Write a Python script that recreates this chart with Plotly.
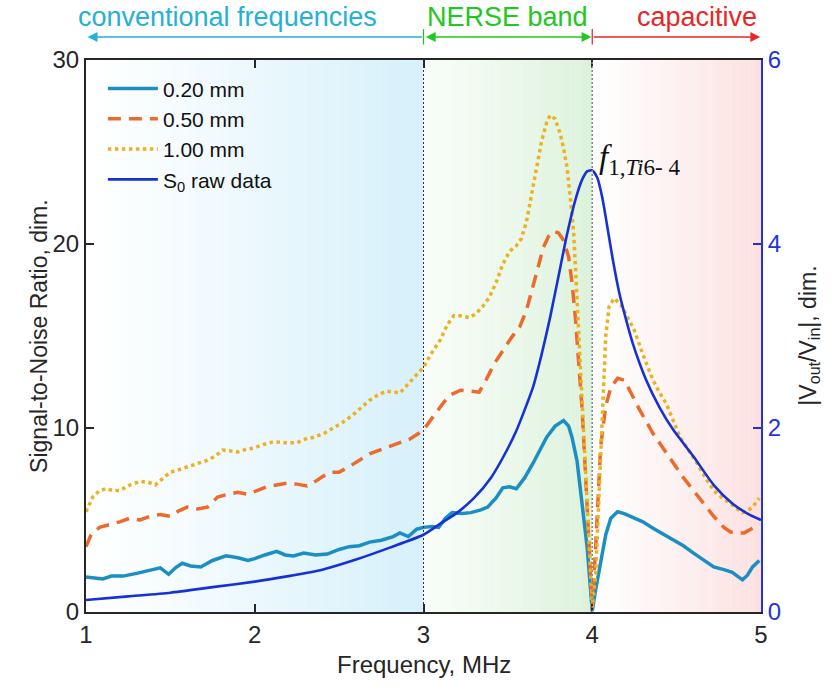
import plotly.graph_objects as go

# ---------------- data ----------------
freq_020 = [1.00,1.05,1.10,1.15,1.22,1.30,1.38,1.44,1.49,1.53,1.57,1.62,1.68,1.75,1.83,1.90,1.96,2.00,2.06,2.13,
            2.18,2.23,2.29,2.36,2.43,2.50,2.56,2.62,2.68,2.75,2.82,2.86,2.91,2.96,3.00,3.05,3.09,3.13,3.17,3.23,
            3.28,3.34,3.38,3.43,3.47,3.51,3.55,3.60,3.65,3.69,3.73,3.78,3.83,3.86,3.88,3.91,3.93,3.95,3.97,3.99,
            4.00,4.02,4.05,4.08,4.11,4.15,4.19,4.24,4.30,4.36,4.42,4.48,4.54,4.60,4.66,4.72,4.78,4.83,4.86,4.89,
            4.92,4.95,4.99]
snr_020 = [1.9,1.85,1.8,1.95,1.95,2.1,2.25,2.4,2.05,2.4,2.65,2.5,2.45,2.8,3.05,2.95,2.8,2.9,3.1,3.3,
           3.1,3.05,3.2,3.1,3.15,3.4,3.55,3.6,3.8,3.9,4.1,4.3,4.1,4.5,4.6,4.65,4.6,5.1,5.4,5.35,
           5.4,5.55,5.7,6.2,6.75,6.8,6.7,7.3,8.1,8.8,9.5,10.1,10.4,10.1,9.5,8.2,6.6,5.0,3.5,1.2,
           0.05,1.2,2.8,4.2,5.1,5.45,5.35,5.15,4.9,4.55,4.25,3.9,3.6,3.2,2.8,2.45,2.3,2.15,1.95,1.75,
           2.0,2.45,2.8]

freq_050 = [1.00,1.03,1.08,1.14,1.20,1.26,1.32,1.38,1.44,1.50,1.55,1.60,1.66,1.72,1.78,1.84,1.90,1.96,2.02,2.07,
            2.13,2.19,2.25,2.31,2.36,2.40,2.45,2.50,2.56,2.62,2.68,2.74,2.80,2.86,2.92,2.97,3.00,3.04,3.08,3.12,
            3.16,3.22,3.28,3.33,3.37,3.42,3.47,3.52,3.57,3.61,3.64,3.67,3.71,3.74,3.77,3.80,3.83,3.86,3.88,3.90,
            3.92,3.94,3.96,3.98,4.00,4.02,4.05,4.08,4.11,4.15,4.19,4.23,4.28,4.36,4.42,4.48,4.54,4.60,4.66,4.72,
            4.78,4.82,4.86,4.90,4.95,4.99]
snr_050 = [3.55,4.2,4.6,4.75,4.9,5.1,5.0,5.2,5.3,5.2,5.5,5.7,5.6,5.7,6.25,6.4,6.5,6.4,6.6,6.8,
           6.9,7.0,6.95,6.85,7.1,7.35,7.6,7.6,7.9,8.25,8.6,8.8,9.0,9.2,9.4,9.7,9.9,10.4,10.9,11.4,
           11.8,12.05,12.0,11.95,12.6,13.5,14.2,14.9,15.5,16.4,17.4,18.4,19.8,20.4,20.7,20.6,20.2,19.3,17.9,16.0,
           13.3,11.0,7.5,3.5,0.2,3.5,9.0,11.2,12.2,12.7,12.6,11.9,11.0,9.7,8.9,8.1,7.3,6.6,5.9,5.2,
           4.6,4.35,4.3,4.3,4.55,4.8]

freq_100 = [1.00,1.02,1.04,1.08,1.12,1.16,1.20,1.26,1.32,1.37,1.41,1.46,1.50,1.54,1.60,1.66,1.72,1.77,1.81,1.86,
            1.90,1.95,1.99,2.05,2.11,2.18,2.25,2.30,2.35,2.41,2.47,2.52,2.58,2.63,2.68,2.73,2.78,2.83,2.86,2.90,
            2.95,3.00,3.05,3.10,3.14,3.18,3.22,3.27,3.31,3.35,3.39,3.43,3.47,3.51,3.55,3.58,3.61,3.64,3.67,3.70,
            3.73,3.75,3.78,3.81,3.83,3.85,3.87,3.89,3.91,3.93,3.95,3.97,3.99,4.00,4.02,4.04,4.06,4.08,4.10,4.13,
            4.17,4.21,4.25,4.30,4.36,4.40,4.44,4.48,4.52,4.57,4.62,4.67,4.72,4.77,4.82,4.86,4.89,4.92,4.95,4.99]
snr_100 = [5.45,5.9,6.25,6.6,6.7,6.6,6.6,6.9,7.1,7.05,6.9,7.3,7.6,7.7,7.9,8.1,8.25,8.5,8.8,8.75,
           8.7,8.85,8.9,9.1,9.25,9.2,9.2,9.4,9.5,9.7,10.0,10.3,10.7,11.1,11.5,11.8,12.0,11.95,11.9,12.3,
           12.8,13.3,14.1,14.8,15.6,16.1,16.1,16.0,16.2,16.6,17.1,17.9,18.9,19.6,19.9,20.3,21.2,22.6,24.2,25.6,
           26.6,27.0,26.8,26.0,25.2,24.2,22.5,20.6,17.0,13.3,9.5,5.5,1.5,0.3,2.0,6.0,11.0,15.0,16.6,17.05,
           16.7,16.0,15.3,14.0,12.6,11.9,11.3,10.4,9.5,8.8,8.1,7.3,6.6,6.2,5.9,5.6,5.4,5.5,5.7,6.2]

freq_s0 = [1.00,1.25,1.50,1.75,2.00,2.20,2.40,2.60,2.80,3.00,3.10,3.20,3.30,3.40,3.50,3.55,3.60,3.65,3.70,3.75,
           3.80,3.85,3.90,3.94,3.97,4.00,4.03,4.06,4.09,4.12,4.16,4.20,4.24,4.32,4.40,4.48,4.60,4.72,4.83,4.92,5.00]
v_ratio = [0.13,0.17,0.21,0.27,0.33,0.39,0.46,0.57,0.70,0.84,0.96,1.08,1.24,1.46,1.78,1.97,2.20,2.45,2.80,3.20,
           3.65,4.10,4.48,4.70,4.79,4.80,4.72,4.50,4.18,3.85,3.47,3.18,2.92,2.52,2.22,1.98,1.69,1.38,1.18,1.07,1.00]

series_names = ["0.20 mm", "0.50 mm", "1.00 mm", "S<sub>0</sub> raw data"]
x_ticks = [1, 2, 3, 4, 5]
y_ticks = [0, 10, 20, 30]
y2_ticks = [0, 2, 4, 6]
band_edges = [1, 3, 4, 5]
band_labels = ["conventional frequencies", "NERSE band", "capacitive"]

# ---------------- styles ----------------
C_CYAN = "#1b8fc4"
C_ORANGE = "#ec6a2c"
C_YELLOW = "#edb120"
C_BLUE = "#1632d6"
AX_BLUE = "#2233dd"
FONT = "Liberation Sans, Arial, sans-serif"

fig = go.Figure()
fig.add_trace(go.Scatter(x=freq_020, y=snr_020, mode="lines", name=series_names[0],
                         line=dict(color=C_CYAN, width=3.5)))
fig.add_trace(go.Scatter(x=freq_050, y=snr_050, mode="lines", name=series_names[1],
                         line=dict(color=C_ORANGE, width=3.5, dash="13px,8px")))
fig.add_trace(go.Scatter(x=freq_100, y=snr_100, mode="lines", name=series_names[2],
                         line=dict(color=C_YELLOW, width=3.5, dash="3.5px,3.5px")))
fig.add_trace(go.Scatter(x=freq_s0, y=v_ratio, mode="lines", name=series_names[3], yaxis="y2",
                         line=dict(color=C_BLUE, width=2.6, shape="spline", smoothing=0.6)))

# ---------------- gradient background bands ----------------
def lerp(c0, c1, t):
    return tuple(int(round(a + (b - a) * t)) for a, b in zip(c0, c1))

band_colors = [((255, 255, 255), (214, 240, 251)),
               ((249, 253, 249), (220, 242, 220)),
               ((255, 255, 255), (252, 224, 224))]
shapes = []
N = 40
for (x0, x1), (c0, c1) in zip(zip(band_edges[:-1], band_edges[1:]), band_colors):
    w = (x1 - x0) / N
    for i in range(N):
        c = lerp(c0, c1, ((i + 0.5) / N) ** 1.1)
        shapes.append(dict(type="rect", xref="x", yref="paper", x0=x0 + i * w, x1=x0 + (i + 1) * w + w * 0.05,
                           y0=0, y1=1, fillcolor="rgb(%d,%d,%d)" % c, line=dict(width=0), layer="below"))

# vertical dotted lines
shapes.append(dict(type="line", xref="x", yref="paper", x0=band_edges[1], x1=band_edges[1], y0=0, y1=1,
                   line=dict(color="#333333", width=1, dash="2px,2px"), layer="above"))
shapes.append(dict(type="line", xref="x", yref="paper", x0=band_edges[2], x1=band_edges[2], y0=0, y1=1,
                   line=dict(color="#8a8a8a", width=1.6, dash="2px,2px"), layer="above"))
# small end marks on header arrows
for xe, col in [(band_edges[1], "#20c020"), (band_edges[2], "#e02020")]:
    shapes.append(dict(type="line", xref="x", yref="paper", x0=xe, x1=xe, y0=1.028, y1=1.056,
                       line=dict(color=col, width=1.2)))

# ---------------- annotations ----------------
ann = []
arrow_y = 1.0417
ann.append(dict(x=band_edges[0] + 0.01, y=arrow_y, xref="x", yref="paper", ax=band_edges[1], ay=0,
                axref="x", ayref="pixel", text="", showarrow=True, arrowhead=2, arrowsize=1.4,
                arrowwidth=1.4, arrowcolor="#25b0d8"))
ann.append(dict(x=band_edges[2] - 0.005, y=arrow_y, xref="x", yref="paper", ax=band_edges[1] + 0.005, ay=0,
                axref="x", ayref="pixel", text="", showarrow=True, arrowhead=2, startarrowhead=2,
                arrowside="end+start", arrowsize=1.4, startarrowsize=1.4,
                arrowwidth=1.4, arrowcolor="#20c820"))
ann.append(dict(x=band_edges[3] - 0.005, y=arrow_y, xref="x", yref="paper", ax=band_edges[2], ay=0,
                axref="x", ayref="pixel", text="", showarrow=True, arrowhead=2, arrowsize=1.4,
                arrowwidth=1.4, arrowcolor="#e82626"))
for xc, txt, col in [(1.84, band_labels[0], "#25b0d8"), (3.5, band_labels[1], "#20c820"),
                     (4.62, band_labels[2], "#e82626")]:
    ann.append(dict(x=xc, y=1.078, xref="x", yref="paper", text=txt, showarrow=False,
                    font=dict(family=FONT, size=27, color=col), xanchor="center", yanchor="middle"))

ann.append(dict(x=4.03, y=0.82, xref="x", yref="paper", xanchor="left", yanchor="middle", showarrow=False,
                text="<i>f</i><sub>1,<i>Ti</i>6- 4</sub>",
                font=dict(family="Liberation Serif, DejaVu Serif, serif", size=33, color="#111111")))

# axis titles
ann.append(dict(x=-0.092, y=0.5, xref="paper", yref="paper", text="Signal-to-Noise Ratio, dim.",
                textangle=-90, showarrow=False, font=dict(family=FONT, size=23, color="#262626")))
ann.append(dict(x=1.095, y=0.5, xref="paper", yref="paper", text="|V<sub>out</sub>/V<sub>in</sub>|, dim.",
                textangle=-90, showarrow=False, font=dict(family=FONT, size=23, color="#262626")))
ann.append(dict(x=0.5, y=-0.123, xref="paper", yref="paper", text="Frequency, MHz",
                showarrow=False, font=dict(family=FONT, size=24, color="#262626")))

fig.update_layout(
    width=835, height=700,
    margin=dict(l=86, r=74, t=60, b=88),
    paper_bgcolor="white", plot_bgcolor="white",
    shapes=shapes, annotations=ann,
    font=dict(family=FONT, size=24, color="#262626"),
    legend=dict(x=0.025, y=0.985, xanchor="left", yanchor="top", bgcolor="rgba(0,0,0,0)",
                font=dict(family=FONT, size=21, color="#111111"), itemwidth=50, tracegroupgap=0),
    xaxis=dict(range=[1, 5], tickvals=x_ticks, ticks="inside", ticklen=8, tickwidth=1.5,
               tickcolor="#262626", showline=True, linecolor="#262626", linewidth=2, mirror="ticks",
               showgrid=False, zeroline=False, tickfont=dict(size=24, color="#262626")),
    yaxis=dict(range=[0, 30], tickvals=y_ticks, ticks="inside", ticklen=8, tickwidth=1.5,
               tickcolor="#262626", showline=True, linecolor="#262626", linewidth=2,
               showgrid=False, zeroline=False, tickfont=dict(size=24, color="#262626")),
    yaxis2=dict(range=[0, 6], tickvals=y2_ticks, overlaying="y", side="right", ticks="inside", ticklen=8,
                tickwidth=1.5, tickcolor=AX_BLUE, showline=True, linecolor=AX_BLUE, linewidth=2,
                showgrid=False, zeroline=False, tickfont=dict(size=24, color=AX_BLUE)),
    showlegend=True,
)

fig.write_html("out.html")
